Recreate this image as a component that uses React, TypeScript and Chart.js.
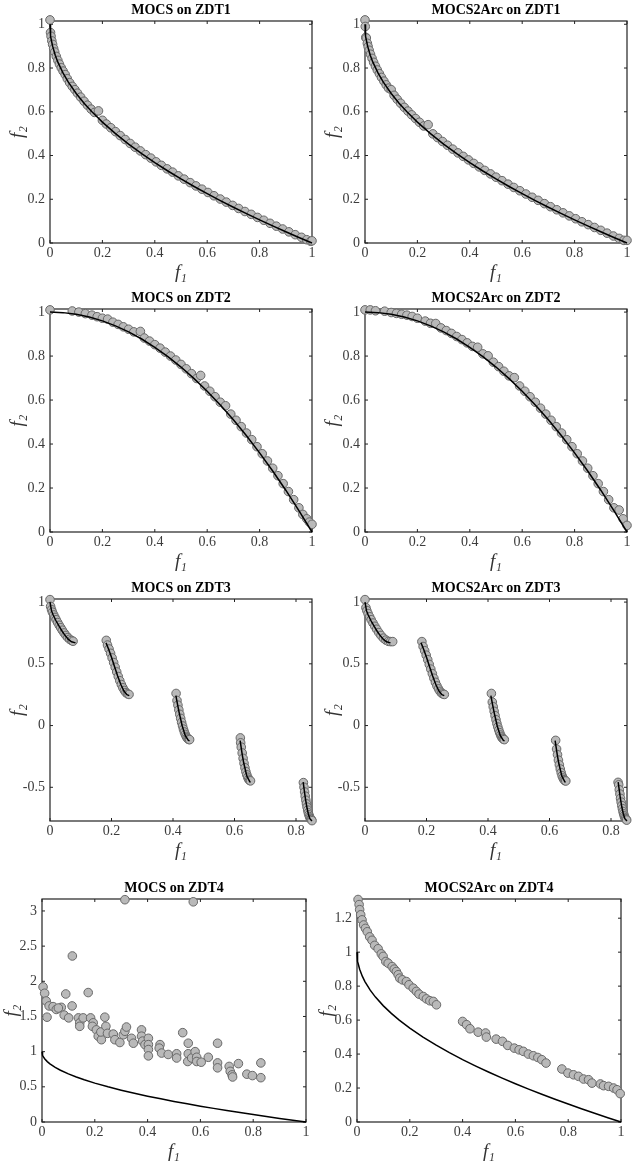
import React, { useEffect, useRef } from 'react';
import { Chart, registerables } from 'chart.js';

Chart.register(...registerables);

// ---------- tick labels ----------
const ticksUnit = [0, 0.2, 0.4, 0.6, 0.8, 1];
const ticksZdt3X = [0, 0.2, 0.4, 0.6, 0.8];
const ticksZdt3Y = [-0.5, 0, 0.5, 1];
const ticksZdt4LeftY = [0, 0.5, 1, 1.5, 2, 2.5, 3];
const ticksZdt4RightY = [0, 0.2, 0.4, 0.6, 0.8, 1, 1.2];

// ---------- panel titles ----------
const panelTitles = [
  'MOCS on ZDT1', 'MOCS2Arc on ZDT1',
  'MOCS on ZDT2', 'MOCS2Arc on ZDT2',
  'MOCS on ZDT3', 'MOCS2Arc on ZDT3',
  'MOCS on ZDT4', 'MOCS2Arc on ZDT4',
];

// ---------- axis ranges ----------
const xMaxes = [1, 1, 1, 1, 0.852, 0.852, 1, 1];
const yMins = [0, 0, 0, 0, -0.773, -0.773, 0, 0];
const yMaxes = [1.015, 1.015, 1.014, 1.014, 1.025, 1.025, 3.17, 1.313];

// ---------- true Pareto fronts ----------
const convexFrontX = [0, 0.001, 0.003, 0.006, 0.01, 0.02, 0.03, 0.05, 0.07, 0.1, 0.13, 0.16, 0.2, 0.25, 0.3, 0.35, 0.4, 0.45, 0.5, 0.55, 0.6, 0.65, 0.7, 0.75, 0.8, 0.85, 0.9, 0.95, 1];
const convexFrontY = [1, 0.9684, 0.9452, 0.9225, 0.9, 0.8586, 0.8268, 0.7764, 0.7354, 0.6838, 0.6394, 0.6, 0.5528, 0.5, 0.4523, 0.4084, 0.3675, 0.3292, 0.2929, 0.2584, 0.2254, 0.1938, 0.1633, 0.134, 0.1056, 0.078, 0.0513, 0.0253, 0];

const concaveFrontX = [0, 0.05, 0.1, 0.15, 0.2, 0.25, 0.3, 0.35, 0.4, 0.45, 0.5, 0.55, 0.6, 0.65, 0.7, 0.75, 0.8, 0.85, 0.9, 0.95, 1];
const concaveFrontY = [1, 0.9975, 0.99, 0.9775, 0.96, 0.9375, 0.91, 0.8775, 0.84, 0.7975, 0.75, 0.6975, 0.64, 0.5775, 0.51, 0.4375, 0.36, 0.2775, 0.19, 0.0975, 0];

const discFrontX = [0, 0.005, 0.01, 0.02, 0.03, 0.04, 0.05, 0.06, 0.07, 0.083, null,
  0.1822, 0.19, 0.2, 0.21, 0.22, 0.23, 0.24, 0.25, 0.2578, null,
  0.4093, 0.415, 0.42, 0.43, 0.44, 0.45, 0.4539, null,
  0.6183, 0.625, 0.63, 0.64, 0.65, 0.6525, null,
  0.8233, 0.83, 0.835, 0.84, 0.845, 0.8518];
const discFrontY = [1, 0.9285, 0.8969, 0.8468, 0.8025, 0.762, 0.7264, 0.698, 0.6788, 0.6696, null,
  0.6697, 0.6228, 0.5528, 0.4768, 0.4017, 0.3343, 0.2819, 0.25, 0.2422, null,
  0.2423, 0.1676, 0.105, -0.0036, -0.0817, -0.1208, -0.1242, null,
  -0.1221, -0.2325, -0.3034, -0.4087, -0.4562, -0.4584, null,
  -0.4576, -0.5825, -0.6578, -0.7153, -0.7538, -0.7733];

// ---------- obtained solutions ----------
const mocsZdt1X = [0, 0.002, 0.004, 0.007, 0.01, 0.014, 0.018, 0.024, 0.03, 0.036, 0.043, 0.05, 0.058, 0.066, 0.075, 0.085, 0.095, 0.105, 0.117, 0.13, 0.143, 0.157, 0.17, 0.185, 0.2, 0.215, 0.232, 0.25, 0.268, 0.287, 0.306, 0.325, 0.345, 0.365, 0.385, 0.405, 0.425, 0.447, 0.468, 0.49, 0.512, 0.535, 0.557, 0.58, 0.603, 0.626, 0.65, 0.673, 0.697, 0.72, 0.744, 0.768, 0.792, 0.816, 0.84, 0.864, 0.888, 0.912, 0.936, 0.96, 0.98, 0.995, 1];
const mocsZdt1Y = [1.02, 0.962, 0.945, 0.924, 0.908, 0.889, 0.873, 0.853, 0.835, 0.818, 0.801, 0.786, 0.77, 0.751, 0.733, 0.716, 0.701, 0.685, 0.667, 0.648, 0.63, 0.612, 0.597, 0.604, 0.561, 0.544, 0.527, 0.509, 0.491, 0.473, 0.455, 0.438, 0.421, 0.404, 0.388, 0.371, 0.355, 0.339, 0.324, 0.307, 0.292, 0.276, 0.261, 0.246, 0.231, 0.216, 0.201, 0.187, 0.172, 0.158, 0.144, 0.131, 0.117, 0.104, 0.09, 0.077, 0.064, 0.051, 0.038, 0.026, 0.015, 0.008, 0.01];

const arcZdt1X = [0, 0.001, 0.003, 0.005, 0.009, 0.012, 0.016, 0.021, 0.027, 0.033, 0.04, 0.047, 0.055, 0.063, 0.072, 0.081, 0.09, 0.1, 0.111, 0.123, 0.136, 0.15, 0.164, 0.178, 0.193, 0.208, 0.224, 0.241, 0.259, 0.277, 0.296, 0.315, 0.335, 0.355, 0.375, 0.395, 0.415, 0.436, 0.457, 0.479, 0.5, 0.523, 0.546, 0.568, 0.591, 0.614, 0.638, 0.661, 0.685, 0.708, 0.732, 0.756, 0.78, 0.804, 0.828, 0.852, 0.876, 0.9, 0.924, 0.948, 0.97, 0.988, 1];
const arcZdt1Y = [1.02, 0.99, 0.94, 0.937, 0.913, 0.898, 0.881, 0.863, 0.844, 0.826, 0.808, 0.791, 0.774, 0.757, 0.74, 0.723, 0.708, 0.701, 0.675, 0.657, 0.639, 0.62, 0.603, 0.586, 0.569, 0.552, 0.535, 0.541, 0.499, 0.482, 0.464, 0.447, 0.429, 0.412, 0.396, 0.38, 0.364, 0.348, 0.332, 0.316, 0.301, 0.285, 0.269, 0.254, 0.239, 0.224, 0.209, 0.195, 0.18, 0.166, 0.152, 0.138, 0.124, 0.111, 0.097, 0.084, 0.071, 0.058, 0.045, 0.032, 0.021, 0.012, 0.012];

const mocsZdt2X = [0, 0.085, 0.11, 0.135, 0.16, 0.18, 0.2, 0.22, 0.24, 0.26, 0.28, 0.3, 0.32, 0.345, 0.36, 0.38, 0.4, 0.42, 0.44, 0.46, 0.48, 0.5, 0.52, 0.54, 0.56, 0.575, 0.59, 0.61, 0.63, 0.65, 0.67, 0.69, 0.71, 0.73, 0.75, 0.77, 0.79, 0.81, 0.83, 0.85, 0.87, 0.89, 0.91, 0.93, 0.95, 0.965, 0.98, 0.99, 1];
const mocsZdt2Y = [1.01, 1.005, 1.0, 0.993, 0.986, 0.979, 0.972, 0.968, 0.954, 0.944, 0.933, 0.922, 0.91, 0.912, 0.882, 0.868, 0.852, 0.836, 0.818, 0.8, 0.782, 0.762, 0.742, 0.72, 0.698, 0.712, 0.664, 0.64, 0.615, 0.59, 0.574, 0.536, 0.508, 0.479, 0.45, 0.42, 0.388, 0.356, 0.323, 0.29, 0.256, 0.22, 0.184, 0.147, 0.11, 0.08, 0.06, 0.045, 0.035];

const arcZdt2X = [0, 0.02, 0.04, 0.075, 0.1, 0.12, 0.14, 0.16, 0.18, 0.2, 0.23, 0.25, 0.27, 0.29, 0.31, 0.33, 0.35, 0.37, 0.39, 0.41, 0.43, 0.45, 0.47, 0.49, 0.51, 0.53, 0.55, 0.57, 0.59, 0.61, 0.63, 0.65, 0.67, 0.69, 0.71, 0.73, 0.75, 0.77, 0.79, 0.81, 0.83, 0.85, 0.87, 0.89, 0.91, 0.93, 0.95, 0.97, 0.985, 1];
const arcZdt2Y = [1.01, 1.01, 1.006, 1.004, 0.998, 0.994, 0.99, 0.986, 0.98, 0.972, 0.959, 0.949, 0.948, 0.928, 0.916, 0.903, 0.889, 0.875, 0.86, 0.844, 0.84, 0.81, 0.801, 0.772, 0.752, 0.731, 0.71, 0.702, 0.664, 0.64, 0.615, 0.59, 0.563, 0.536, 0.508, 0.479, 0.45, 0.42, 0.388, 0.356, 0.323, 0.29, 0.256, 0.22, 0.184, 0.147, 0.11, 0.1, 0.06, 0.03];

const mocsZdt3X = [0, 0.002, 0.005, 0.008, 0.012, 0.016, 0.02, 0.025, 0.03, 0.035, 0.04, 0.046, 0.052, 0.058, 0.064, 0.07, 0.075,
  0.183, 0.187, 0.192, 0.197, 0.202, 0.207, 0.212, 0.217, 0.222, 0.227, 0.232, 0.237, 0.242, 0.247, 0.252, 0.257,
  0.41, 0.413, 0.416, 0.419, 0.422, 0.425, 0.428, 0.431, 0.434, 0.437, 0.44, 0.443, 0.446, 0.449, 0.452, 0.454,
  0.619, 0.62, 0.622, 0.625, 0.628, 0.631, 0.634, 0.637, 0.64, 0.643, 0.646, 0.649, 0.652,
  0.824, 0.826, 0.828, 0.83, 0.832, 0.834, 0.836, 0.838, 0.84, 0.842, 0.844, 0.846, 0.848, 0.85, 0.852];
const mocsZdt3Y = [1.02, 0.965, 0.938, 0.918, 0.896, 0.876, 0.857, 0.834, 0.812, 0.792, 0.772, 0.75, 0.73, 0.713, 0.699, 0.689, 0.683,
  0.69, 0.652, 0.62, 0.585, 0.548, 0.51, 0.472, 0.434, 0.397, 0.363, 0.332, 0.306, 0.284, 0.267, 0.257, 0.252,
  0.26, 0.203, 0.165, 0.127, 0.091, 0.058, 0.026, -0.003, -0.029, -0.052, -0.072, -0.088, -0.1, -0.109, -0.113, -0.114,
  -0.1, -0.14, -0.175, -0.222, -0.266, -0.306, -0.342, -0.373, -0.399, -0.419, -0.435, -0.444, -0.448,
  -0.462, -0.5, -0.538, -0.572, -0.605, -0.634, -0.661, -0.685, -0.706, -0.723, -0.738, -0.749, -0.757, -0.762, -0.77];

const arcZdt3X = [0, 0.003, 0.006, 0.01, 0.015, 0.02, 0.026, 0.032, 0.038, 0.045, 0.052, 0.06, 0.068, 0.076, 0.083, 0.09,
  0.185, 0.189, 0.194, 0.199, 0.204, 0.209, 0.214, 0.219, 0.224, 0.229, 0.234, 0.239, 0.244, 0.249, 0.254, 0.258,
  0.411, 0.414, 0.417, 0.42, 0.423, 0.426, 0.429, 0.432, 0.435, 0.438, 0.441, 0.444, 0.447, 0.45, 0.453,
  0.62, 0.623, 0.626, 0.629, 0.632, 0.635, 0.638, 0.641, 0.644, 0.647, 0.65, 0.653,
  0.823, 0.825, 0.827, 0.829, 0.831, 0.833, 0.835, 0.837, 0.839, 0.841, 0.843, 0.845, 0.847, 0.849, 0.851];
const arcZdt3Y = [1.02, 0.955, 0.931, 0.907, 0.881, 0.857, 0.83, 0.804, 0.78, 0.753, 0.73, 0.708, 0.692, 0.682, 0.68, 0.68,
  0.68, 0.64, 0.606, 0.57, 0.533, 0.495, 0.457, 0.42, 0.383, 0.35, 0.321, 0.297, 0.277, 0.263, 0.255, 0.252,
  0.26, 0.19, 0.152, 0.115, 0.08, 0.047, 0.016, -0.012, -0.036, -0.058, -0.077, -0.092, -0.103, -0.11, -0.114,
  -0.12, -0.19, -0.236, -0.28, -0.318, -0.352, -0.382, -0.407, -0.425, -0.438, -0.446, -0.449,
  -0.46, -0.48, -0.52, -0.555, -0.59, -0.62, -0.648, -0.673, -0.696, -0.715, -0.731, -0.744, -0.753, -0.76, -0.766];

const mocsZdt4X = [0.314, 0.573, 0.115, 0.004, 0.01, 0.016, 0.027, 0.019, 0.042, 0.054, 0.073, 0.062, 0.09, 0.114, 0.084, 0.101, 0.175, 0.138, 0.143, 0.143, 0.156, 0.184, 0.194, 0.191, 0.238, 0.206, 0.213, 0.225, 0.223, 0.242, 0.248, 0.27, 0.276, 0.295, 0.308, 0.314, 0.32, 0.339, 0.346, 0.377, 0.377, 0.381, 0.39, 0.403, 0.403, 0.403, 0.403, 0.447, 0.444, 0.453, 0.478, 0.51, 0.51, 0.533, 0.554, 0.554, 0.552, 0.567, 0.58, 0.586, 0.586, 0.603, 0.63, 0.665, 0.665, 0.665, 0.709, 0.713, 0.72, 0.722, 0.744, 0.776, 0.797, 0.829, 0.829];
const mocsZdt4Y = [3.16, 3.13, 2.36, 1.92, 1.83, 1.72, 1.65, 1.49, 1.64, 1.6, 1.63, 1.62, 1.82, 1.65, 1.52, 1.48, 1.84, 1.48, 1.41, 1.36, 1.48, 1.48, 1.41, 1.36, 1.49, 1.31, 1.22, 1.17, 1.28, 1.36, 1.26, 1.25, 1.17, 1.13, 1.24, 1.29, 1.35, 1.19, 1.12, 1.31, 1.22, 1.15, 1.1, 1.19, 1.1, 1.03, 0.94, 1.1, 1.05, 0.98, 0.96, 0.97, 0.91, 1.27, 1.12, 0.97, 0.86, 0.91, 1.0, 0.92, 0.86, 0.85, 0.92, 1.12, 0.84, 0.77, 0.79, 0.72, 0.67, 0.64, 0.83, 0.68, 0.66, 0.84, 0.63];

const arcZdt4X = [0.004, 0.008, 0.01, 0.014, 0.019, 0.025, 0.032, 0.039, 0.048, 0.057, 0.067, 0.08, 0.092, 0.099, 0.109, 0.118, 0.133, 0.141, 0.149, 0.156, 0.162, 0.172, 0.187, 0.197, 0.213, 0.225, 0.235, 0.251, 0.263, 0.276, 0.289, 0.301,
  0.4, 0.415, 0.428, 0.459, 0.487, 0.49, 0.527, 0.551, 0.571, 0.596, 0.614, 0.63, 0.649, 0.668, 0.685, 0.7, 0.716,
  0.776, 0.799, 0.82, 0.839, 0.858, 0.877, 0.89, 0.922, 0.934, 0.953, 0.972, 0.985, 0.997];
const arcZdt4Y = [1.31, 1.28, 1.25, 1.22, 1.19, 1.16, 1.14, 1.12, 1.09, 1.07, 1.04, 1.02, 0.99, 0.975, 0.945, 0.935, 0.915, 0.9, 0.886, 0.867, 0.847, 0.837, 0.827, 0.808, 0.788, 0.769, 0.753, 0.739, 0.725, 0.714, 0.71, 0.69,
  0.592, 0.573, 0.549, 0.529, 0.524, 0.5, 0.488, 0.475, 0.451, 0.435, 0.425, 0.416, 0.4, 0.39, 0.38, 0.367, 0.347,
  0.312, 0.288, 0.278, 0.269, 0.253, 0.249, 0.229, 0.224, 0.214, 0.21, 0.2, 0.19, 0.167];

// ---------- assembly ----------
const zip = (xs: (number | null)[], ys: (number | null)[]) => xs.map((x, i) => ({ x, y: ys[i] }));

const frontData = [
  zip(convexFrontX, convexFrontY), zip(convexFrontX, convexFrontY),
  zip(concaveFrontX, concaveFrontY), zip(concaveFrontX, concaveFrontY),
  zip(discFrontX, discFrontY), zip(discFrontX, discFrontY),
  zip(convexFrontX, convexFrontY), zip(convexFrontX, convexFrontY),
];
const pointData = [
  zip(mocsZdt1X, mocsZdt1Y), zip(arcZdt1X, arcZdt1Y),
  zip(mocsZdt2X, mocsZdt2Y), zip(arcZdt2X, arcZdt2Y),
  zip(mocsZdt3X, mocsZdt3Y), zip(arcZdt3X, arcZdt3Y),
  zip(mocsZdt4X, mocsZdt4Y), zip(arcZdt4X, arcZdt4Y),
];
const xTickSets = [ticksUnit, ticksUnit, ticksUnit, ticksUnit, ticksZdt3X, ticksZdt3X, ticksUnit, ticksUnit];
const yTickSets = [ticksUnit, ticksUnit, ticksUnit, ticksUnit, ticksZdt3Y, ticksZdt3Y, ticksZdt4LeftY, ticksZdt4RightY];

// plot-area boxes on the page (layout only)
const boxes = [
  { L: 50, T: 21, R: 312, B: 243, yW: 50, yOff: 32 },
  { L: 365, T: 21, R: 627, B: 243, yW: 50, yOff: 32 },
  { L: 50, T: 309, R: 312, B: 532, yW: 50, yOff: 32 },
  { L: 365, T: 309, R: 627, B: 532, yW: 50, yOff: 32 },
  { L: 50, T: 599, R: 312, B: 821, yW: 50, yOff: 32 },
  { L: 365, T: 599, R: 627, B: 821, yW: 50, yOff: 32 },
  { L: 42, T: 899, R: 306, B: 1122, yW: 45, yOff: 30 },
  { L: 357, T: 899, R: 621, B: 1122, yW: 45, yOff: 30 },
];

const FAMILY = "'Liberation Serif', 'Times New Roman', serif";
const TITLE_H = 21;
const XAXIS_H = 40;
const RIGHT_PAD = 6;
const AXIS_TITLE_SIZE = 19;

const framePlugin = {
  id: 'frame',
  beforeDatasetsDraw(chart: any) {
    const { ctx, chartArea: a, scales } = chart;
    ctx.save();
    ctx.strokeStyle = '#222';
    ctx.lineWidth = 1.2;
    ctx.strokeRect(a.left, a.top, a.right - a.left, a.bottom - a.top);
    ctx.lineWidth = 1;
    const tl = 3;
    ctx.beginPath();
    scales.x.ticks.forEach((t: any) => {
      const px = scales.x.getPixelForValue(t.value);
      ctx.moveTo(px, a.bottom); ctx.lineTo(px, a.bottom - tl);
      ctx.moveTo(px, a.top); ctx.lineTo(px, a.top + tl);
    });
    scales.y.ticks.forEach((t: any) => {
      const py = scales.y.getPixelForValue(t.value);
      ctx.moveTo(a.left, py); ctx.lineTo(a.left + tl, py);
      ctx.moveTo(a.right, py); ctx.lineTo(a.right - tl, py);
    });
    ctx.stroke();
    ctx.restore();
  },
};

function Panel({ idx }: { idx: number }) {
  const ref = useRef<HTMLCanvasElement>(null);
  const b = boxes[idx];
  const w = b.yW + (b.R - b.L) + RIGHT_PAD;
  const h = TITLE_H + (b.B - b.T) + XAXIS_H;
  const left = b.L - b.yW;
  const top = b.T - TITLE_H;

  useEffect(() => {
    const chart = new Chart(ref.current as HTMLCanvasElement, {
      type: 'scatter',
      data: {
        datasets: [
          {
            type: 'line',
            data: frontData[idx] as any,
            borderColor: '#000',
            borderWidth: 1.5,
            pointRadius: 0,
            fill: false,
            tension: 0,
            clip: false as any,
          } as any,
          {
            type: 'scatter',
            data: pointData[idx] as any,
            pointRadius: 4.3,
            pointBackgroundColor: '#b9b9b9',
            pointBorderColor: '#686868',
            pointBorderWidth: 1,
            clip: false as any,
          } as any,
        ],
      },
      options: {
        responsive: false,
        animation: false,
        devicePixelRatio: 1,
        events: [],
        layout: { padding: { left: 0, top: 0, right: RIGHT_PAD, bottom: 0 }, autoPadding: false } as any,
        plugins: {
          legend: { display: false },
          tooltip: { enabled: false },
          title: {
            display: true,
            text: panelTitles[idx],
            fullSize: false,
            color: '#000',
            font: { family: FAMILY, size: 14, weight: 'bold', lineHeight: 1 },
            padding: { top: 3, bottom: 4 },
          },
        },
        scales: {
          x: {
            type: 'linear',
            min: 0,
            max: xMaxes[idx],
            grid: { display: false, drawTicks: false },
            border: { display: false },
            afterBuildTicks: (s: any) => { s.ticks = xTickSets[idx].map((v) => ({ value: v })); },
            afterFit: (s: any) => { s.height = XAXIS_H; },
            ticks: {
              autoSkip: false, maxRotation: 0, padding: 2, color: '#3c3c3c',
              font: { family: FAMILY, size: 14 },
              callback: (v: any) => String(v),
            },
            title: {
              display: true, text: 'f₁', color: '#333',
              font: { family: FAMILY, size: AXIS_TITLE_SIZE, style: 'italic', lineHeight: 1 },
              padding: { top: 0, bottom: 10 - AXIS_TITLE_SIZE / 2 },
            },
          },
          y: {
            type: 'linear',
            min: yMins[idx],
            max: yMaxes[idx],
            grid: { display: false, drawTicks: false },
            border: { display: false },
            afterBuildTicks: (s: any) => { s.ticks = yTickSets[idx].map((v) => ({ value: v })); },
            afterFit: (s: any) => { s.width = b.yW; },
            ticks: {
              autoSkip: false, padding: 5, color: '#3c3c3c',
              font: { family: FAMILY, size: 14 },
              callback: (v: any) => String(v),
            },
            title: {
              display: true, text: 'f₂', color: '#333',
              font: { family: FAMILY, size: AXIS_TITLE_SIZE, style: 'italic', lineHeight: 1 },
              padding: { top: b.yW - b.yOff - AXIS_TITLE_SIZE / 2, bottom: 0 },
            },
          },
        },
      } as any,
      plugins: [framePlugin],
    });
    return () => chart.destroy();
  }, []);

  return (
    <canvas
      ref={ref}
      width={w}
      height={h}
      style={{ position: 'absolute', left, top, width: w, height: h, display: 'block' }}
    />
  );
}

export default function App() {
  return (
    <div style={{ position: 'absolute', left: 0, top: 0, width: 635, height: 1168, background: '#fff' }}>
      {boxes.map((_, i) => (
        <Panel key={i} idx={i} />
      ))}
    </div>
  );
}
